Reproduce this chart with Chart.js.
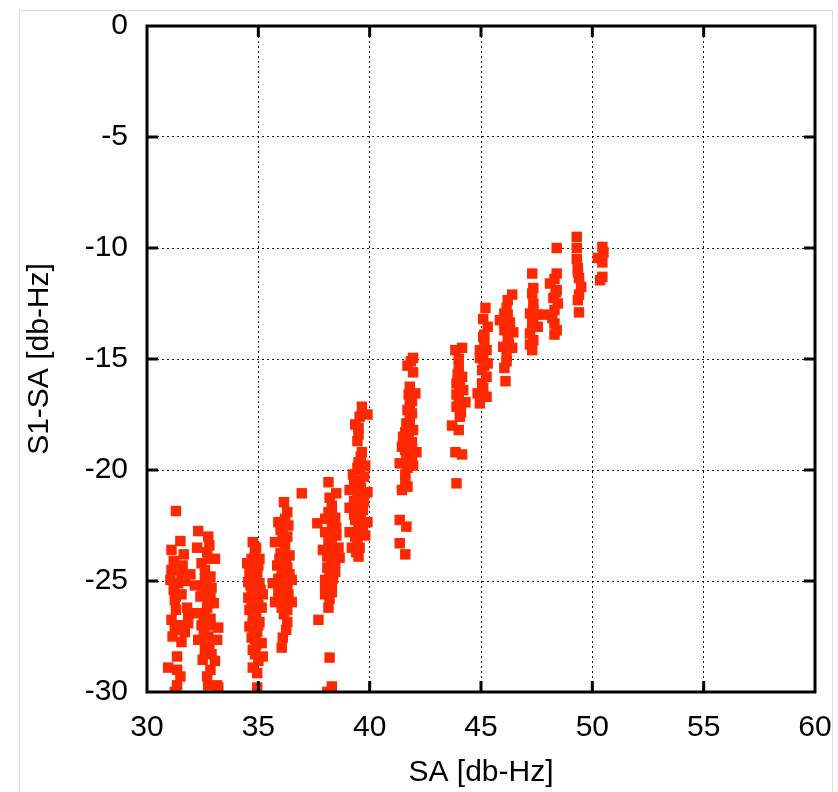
<!DOCTYPE html>
<html>
<head>
<meta charset="utf-8">
<script src="https://cdn.jsdelivr.net/npm/chart.js@4.4.1/dist/chart.umd.min.js"></script>
<style>
  html, body { margin: 0; padding: 0; background: #fff; }
  #frame { position: absolute; left: 19px; top: 10px; width: 812px; height: 800px; border: 1px solid #dcdcdc; }
  #myCanvas { position: absolute; left: 0; top: 0; }
</style>
</head>
<body>
<div id="frame"></div>
<canvas id="myCanvas" width="838" height="792"></canvas>
<script>
// tick values of both axes
const xTicks = [30, 35, 40, 45, 50, 55, 60];
const yTicks = [0, -5, -10, -15, -20, -25, -30];

const xTitle = 'SA [db-Hz]';
const yTitle = 'S1-SA [db-Hz]';

// [SA, S1-SA], one row per column of points
const points = [
   // ~31
   [31.3,-21.85],[31.5,-23.2],[31.1,-23.6],[31.65,-23.8],[31.2,-24.1],[31.6,-24.3],[31.1,-24.5],[31.55,-24.7],
   [31.95,-24.7],[31.05,-24.95],[31.4,-25.1],[31.2,-25.4],[31.55,-25.6],[31.25,-25.85],[31.8,-26.2],[31.85,-26.5],
   [31.1,-26.75],[31.55,-27.0],[31.85,-26.9],[31.25,-27.2],[31.15,-27.5],[31.55,-27.75],[31.35,-28.4],[30.95,-28.9],
   [31.35,-29.0],[31.5,-29.3],[31.35,-29.7],[31.25,-30.0],[31.7,-25.0],[31.3,-26.3],[31.7,-27.3],
   [31.4,-24.4],[31.3,-25.7],[31.45,-27.0],
   // ~32.7
   [32.3,-22.75],[32.75,-23.0],[32.25,-23.5],[32.7,-23.7],[32.75,-24.0],[33.05,-24.0],[32.45,-24.2],[32.6,-24.5],
   [32.85,-24.8],[32.15,-25.2],[32.5,-25.25],[32.9,-25.3],[32.4,-25.7],[32.85,-25.75],[33.0,-26.0],[32.15,-26.45],
   [32.6,-26.45],[32.85,-26.7],[32.45,-27.0],[33.2,-27.1],[32.3,-27.65],[32.75,-27.5],[33.15,-27.65],[32.7,-27.95],
   [32.9,-28.3],[32.5,-28.55],[33.05,-28.6],[32.7,-29.3],[33.15,-29.7],[32.75,-29.7],[33.2,-29.8],
   [32.65,-25.0],[32.7,-26.2],[32.55,-27.25],[32.85,-29.0],[32.8,-23.4],[32.75,-26.0],[32.85,-27.0],[32.6,-28.1],
   [32.6,-24.9],[32.7,-25.5],[32.55,-26.7],[32.8,-28.0],
   // ~35
   [34.75,-23.25],[34.9,-23.5],[34.5,-24.2],[35.05,-24.0],[34.6,-24.6],[34.95,-24.7],[34.55,-25.05],[35.05,-25.1],
   [34.7,-25.5],[35.2,-25.6],[34.55,-25.75],[34.95,-25.9],[34.6,-26.3],[35.15,-26.2],[34.75,-26.65],[35.05,-26.85],
   [34.6,-27.05],[34.95,-27.3],[34.7,-27.55],[35.15,-27.8],[34.75,-28.1],[35.2,-28.4],[34.75,-28.9],[34.95,-29.15],
   [34.95,-29.8],[34.85,-23.9],[34.8,-24.4],[34.85,-25.3],[34.8,-26.0],[34.9,-26.5],[34.8,-27.2],[34.9,-27.9],
   [35.0,-28.6],[34.65,-25.2],[35.0,-26.1],[35.0,-24.3],[34.7,-24.9],[35.1,-25.4],[34.7,-26.1],[35.0,-27.0],
   [34.85,-23.7],[34.7,-24.0],[34.9,-25.7],[34.75,-26.9],[34.85,-27.6],[34.85,-28.3],
   // ~36.1
   [36.15,-21.45],[36.3,-21.9],[35.9,-22.35],[36.35,-22.5],[35.75,-23.25],[36.2,-23.4],[36.0,-23.75],[36.4,-23.85],
   [35.85,-24.3],[36.3,-24.4],[36.05,-24.7],[36.5,-24.95],[35.65,-25.1],[35.9,-25.5],[36.35,-25.6],[35.75,-25.95],
   [36.5,-25.95],[36.05,-26.2],[36.3,-26.85],[36.1,-27.55],[36.05,-28.0],[36.95,-21.05],
   [36.1,-22.9],[36.1,-23.1],[36.15,-24.1],[36.1,-25.2],[36.2,-25.9],[36.15,-26.5],[35.9,-24.9],[36.3,-25.3],
   [36.0,-22.7],[36.3,-23.0],[35.95,-24.0],[36.4,-24.7],[35.95,-25.8],[36.3,-26.3],
   [36.2,-22.2],[36.05,-22.5],[36.25,-24.2],[36.0,-25.0],[36.1,-26.0],[36.25,-27.2],
   // ~38.2
   [38.15,-20.55],[38.5,-21.05],[38.2,-21.25],[37.65,-22.4],[38.15,-21.9],[38.45,-22.15],[38.0,-22.8],[38.5,-22.95],
   [38.15,-23.25],[38.6,-23.5],[37.9,-23.6],[38.3,-23.95],[38.65,-23.95],[38.1,-24.4],[38.45,-24.6],[38.0,-24.95],
   [38.3,-25.3],[38.0,-25.6],[38.3,-25.5],[38.15,-26.2],[37.7,-26.75],[38.2,-28.45],[38.3,-29.75],[38.1,-30.0],
   [38.3,-21.6],[38.3,-22.5],[38.3,-23.1],[38.3,-23.6],[38.25,-24.3],[38.2,-24.7],[38.15,-25.1],[38.1,-23.9],
   [38.0,-22.2],[38.5,-22.6],[38.45,-24.2],[38.0,-25.3],[38.3,-21.9],[38.35,-22.9],[38.2,-23.4],[38.35,-24.9],
   [38.2,-25.8],
   // ~39.5
   [39.65,-17.15],[39.9,-17.5],[39.35,-17.95],[39.5,-18.4],[39.65,-19.2],[39.5,-19.65],[39.8,-19.8],[39.25,-20.2],
   [39.55,-20.55],[39.1,-20.9],[39.9,-21.0],[39.45,-21.25],[39.1,-21.7],[39.7,-21.8],[39.9,-22.35],[39.35,-22.25],
   [39.1,-22.8],[39.8,-22.95],[39.45,-23.25],[39.2,-23.5],[39.5,-23.9],
   [39.5,-18.1],[39.55,-20.0],[39.5,-20.9],[39.5,-21.6],[39.6,-22.1],[39.5,-22.6],
   [39.3,-20.5],[39.75,-20.3],[39.3,-21.4],[39.75,-21.4],[39.3,-22.0],[39.7,-22.7],[39.35,-23.0],
   [39.55,-17.6],[39.45,-18.7],[39.6,-19.4],[39.45,-19.9],[39.6,-20.8],[39.5,-21.9],[39.55,-22.4],[39.55,-23.5],
   [39.4,-23.7],
   // ~41.8
   [41.95,-14.95],[41.7,-15.3],[41.95,-15.6],[41.8,-16.25],[42.05,-16.55],[41.8,-17.05],[41.9,-17.45],[41.65,-17.9],
   [41.95,-18.2],[41.5,-18.5],[41.9,-18.75],[41.45,-18.95],[42.1,-19.2],[41.65,-19.4],[41.35,-19.7],[41.95,-19.8],
   [41.6,-20.2],[41.7,-20.75],[41.45,-20.9],[41.35,-22.25],[41.65,-22.55],[41.35,-23.3],[41.6,-23.8],
   [41.75,-18.6],[41.8,-19.1],[41.7,-19.9],[41.8,-17.7],[41.6,-20.5],[41.6,-19.1],[41.9,-19.5],[41.6,-18.3],
   [41.85,-15.1],[41.75,-16.6],[41.9,-16.9],[41.7,-17.3],[41.8,-18.0],[41.7,-19.6],
   // ~44
   [44.15,-14.5],[43.85,-14.6],[44.0,-15.35],[44.15,-15.8],[43.9,-16.1],[44.2,-16.4],[44.0,-16.7],[44.3,-16.95],
   [43.9,-17.15],[44.05,-17.6],[43.7,-18.0],[44.0,-18.2],[43.85,-19.2],[44.15,-19.3],[43.9,-20.6],
   [44.05,-16.3],[44.1,-17.0],[43.95,-15.7],[43.9,-16.6],[44.1,-17.4],[44.0,-15.0],[44.05,-15.9],
   // ~45.1
   [45.2,-12.7],[45.3,-13.55],[45.1,-14.0],[44.95,-14.6],[45.25,-14.6],[44.95,-14.95],[45.3,-15.2],[45.05,-15.5],
   [45.25,-15.8],[45.05,-16.1],[44.85,-16.55],[45.25,-16.7],[44.95,-17.0],[45.15,-13.9],[45.15,-14.3],[45.1,-15.0],
   [45.1,-13.2],[45.15,-15.3],[45.1,-16.3],
   // ~46.2
   [46.4,-12.1],[46.2,-12.35],[46.05,-12.95],[45.85,-13.25],[46.3,-13.35],[46.05,-13.7],[46.45,-13.8],[46.2,-14.15],
   [46.0,-14.45],[46.4,-14.5],[46.15,-14.9],[46.05,-15.4],[46.1,-16.0],[46.2,-13.0],[46.25,-14.3],[46.2,-13.6],
   [46.15,-12.7],[46.15,-15.1],
   // ~47.3
   [47.3,-11.15],[47.3,-12.05],[47.35,-12.5],[47.2,-12.95],[47.5,-13.0],[47.3,-13.4],[47.55,-13.55],[47.2,-13.85],
   [47.35,-14.15],[47.2,-14.35],[47.3,-14.6],[47.35,-12.8],[47.35,-11.8],[47.35,-13.2],
   // ~48.3
   [48.4,-10.0],[48.4,-11.15],[48.1,-11.6],[48.4,-11.9],[48.25,-12.25],[48.45,-12.5],[48.2,-13.15],[48.4,-13.7],
   [48.3,-13.9],[47.85,-13.0],[48.3,-12.8],[48.3,-11.4],[48.35,-12.0],[48.3,-13.4],
   // ~49.3
   [49.3,-9.5],[49.3,-10.0],[49.3,-10.5],[49.35,-10.9],[49.4,-11.35],[49.5,-11.75],[49.35,-12.35],[49.4,-12.9],
   [49.35,-11.1],[49.4,-12.1],
   // ~50.4
   [50.45,-9.95],[50.5,-10.2],[50.25,-10.45],[50.45,-10.65],[50.45,-11.3],[50.35,-11.45]
];

const FONT = '"Liberation Sans", Arial, Helvetica, sans-serif';

// frame round the plot and gnuplot style inward tics
const framePlugin = {
   id: 'frame',
   afterDraw(chart) {
      const {ctx, chartArea: a, scales} = chart;
      const len = 11;
      ctx.save();
      ctx.strokeStyle = '#000';
      ctx.lineWidth = 3;
      ctx.beginPath();
      xTicks.slice(1, -1).forEach(function(v) {
         const px = scales.x.getPixelForValue(v);
         ctx.moveTo(px, a.bottom); ctx.lineTo(px, a.bottom - len);
         ctx.moveTo(px, a.top); ctx.lineTo(px, a.top + len);
      });
      yTicks.slice(1, -1).forEach(function(v) {
         const py = scales.y.getPixelForValue(v);
         ctx.moveTo(a.left, py); ctx.lineTo(a.left + len, py);
         ctx.moveTo(a.right, py); ctx.lineTo(a.right - len, py);
      });
      ctx.stroke();
      ctx.strokeRect(a.left, a.top, a.right - a.left, a.bottom - a.top);
      ctx.restore();
   }
};

function gridColor(c) {
   const v = c.tick.value;
   return (v === c.scale.min || v === c.scale.max) ? 'rgba(0,0,0,0)' : 'rgba(0,0,0,0.9)';
}

const canvas = document.getElementById('myCanvas');
const ctx = canvas.getContext('2d');
const myChart = new Chart(ctx, {
   type: 'scatter',
   data: {
      datasets: [{
         data: points.map(function(p) { return {x: p[0], y: p[1]}; }),
         pointStyle: 'rect',
         pointRadius: 7.4,
         pointHoverRadius: 7.4,
         borderWidth: 0,
         backgroundColor: 'rgb(255, 40, 0)',
         borderColor: 'rgb(255, 40, 0)'
      }]
   },
   options: {
      responsive: false,
      animation: false,
      events: [],
      layout: { padding: { left: 0, top: 26, right: 23, bottom: 0 } },
      plugins: { legend: { display: false }, tooltip: { enabled: false } },
      scales: {
         x: {
            type: 'linear',
            min: 30,
            max: 60,
            afterBuildTicks: function(s) { s.ticks = xTicks.map(function(v) { return {value: v}; }); },
            afterFit: function(s) { s.height = 100; s.paddingLeft = 0; s.paddingRight = 0; },
            ticks: { color: '#000', padding: 18, font: { family: FONT, size: 30 } },
            grid: { color: gridColor, lineWidth: 1, drawTicks: false },
            border: { display: false, dash: [2, 3] },
            title: {
               display: true,
               text: xTitle,
               color: '#000',
               font: { family: FONT, size: 30 },
               padding: { top: 0, bottom: 1 }
            }
         },
         y: {
            type: 'linear',
            min: -30,
            max: 0,
            afterBuildTicks: function(s) { s.ticks = yTicks.map(function(v) { return {value: v}; }); },
            afterFit: function(s) { s.width = 147; s.paddingTop = 0; s.paddingBottom = 0; },
            ticks: { color: '#000', padding: 19, font: { family: FONT, size: 30 } },
            grid: { color: gridColor, lineWidth: 1, drawTicks: false },
            border: { display: false, dash: [2, 3] },
            title: {
               display: true,
               text: yTitle,
               color: '#000',
               font: { family: FONT, size: 30 },
               padding: { top: 22, bottom: 0 }
            }
         }
      }
   },
   plugins: [framePlugin]
});
</script>
</body>
</html>
